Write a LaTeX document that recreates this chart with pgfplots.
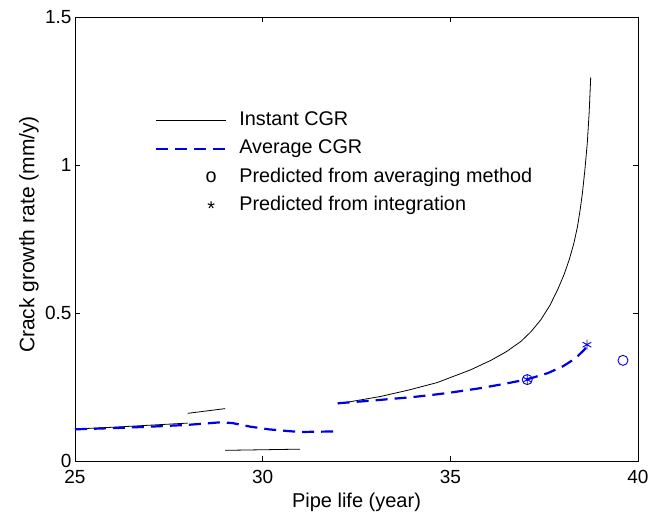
\documentclass[border=0pt]{standalone}
\usepackage{pgfplots}
\pgfplotsset{compat=1.18}
\usepackage{pgfplotstable}
\usepackage{fontspec}
\setmainfont{Liberation Sans}
\definecolor{mblue}{RGB}{0,0,230}
\pgfplotsset{
  lineimg/.style={legend image code/.code={\path (0pt,-5pt) (70pt,5pt); \draw[##1] (0pt,0pt) -- (70pt,0pt);}},
  circimg/.style={legend image code/.code={\path (0pt,-5pt) (70pt,5pt); \node[black, inner sep=0pt, text height=0pt, text depth=0pt, anchor=base] at (55pt,-5pt) {o};}},
  starimg/.style={legend image code/.code={\path (0pt,-5pt) (70pt,5pt); \node[black, inner sep=0pt, text height=0pt, text depth=0pt, anchor=base] at (55pt,-10pt) {*};}},
}

\pgfplotstableread{
x y
25 0.108
26 0.114
27 0.121
28 0.128
28 nan
28 0.161
29 0.177
29 nan
29 0.036
31 0.040
31 nan
32 0.193
33.14 0.218
33.9 0.240
34.65 0.265
35.54 0.308
36.08 0.340
36.5 0.370
36.88 0.404
37.15 0.437
37.41 0.477
37.65 0.525
37.86 0.579
38.03 0.630
38.17 0.681
38.29 0.735
38.39 0.793
38.46 0.850
38.52 0.906
38.59 0.990
38.65 1.076
38.70 1.180
38.74 1.296
}\instant

\pgfplotstableread{
x y
25 0.107
26 0.111
27 0.116
28 0.122
28.5 0.127
28.9 0.131
29.2 0.128
29.67 0.116
30.16 0.107
30.69 0.101
31.0 0.098
31.5 0.099
32.0 0.100
32.0 nan
32.0 0.195
33.0 0.205
34.0 0.216
34.5 0.223
35.0 0.231
35.8 0.246
36.5 0.262
37.05 0.276
37.6 0.297
38.0 0.320
38.2 0.336
38.4 0.355
38.57 0.376
38.65 0.390
}\average

\begin{document}
\begin{tikzpicture}
\begin{axis}[
  scale only axis, width=563pt, height=444pt,
  xmin=25, xmax=40, ymin=0, ymax=1.5,
  xtick={25,30,35,40}, ytick={0,0.5,1,1.5},
  tick align=inside, major tick length=5pt,
  axis line style={line width=0.8pt},
  every tick/.style={black, line width=0.8pt},
  /pgf/number format/assume math mode=true,
  tick label style={font=\fontsize{19}{22}\selectfont},
  xticklabel style={inner ysep=0pt, yshift=-9.3pt},
  yticklabel style={inner ysep=0pt},
  xlabel={Pipe life (year)},
  ylabel={Crack growth rate (mm/y)},
  xlabel style={at={(axis description cs:0.5,0)}, anchor=base, yshift=-46pt, font=\fontsize{20}{24}\selectfont},
  ylabel style={at={(axis description cs:-0.0817,0.51)}, anchor=center, font=\fontsize{21}{25}\selectfont},
  unbounded coords=jump,
  legend style={at={(axis description cs:0.142,0.79)}, anchor=north west, draw=none, fill=none,
    inner sep=0pt, font=\fontsize{19.8}{23}\selectfont, row sep=8.5pt, column sep=12pt,
    nodes={inner sep=0pt, text height=15pt, text depth=5pt}},
  legend cell align=left,
]
\addplot[black, line width=0.8pt, no marks, lineimg] table {\instant};
\addlegendentry{Instant CGR}
\addplot[mblue, line width=2.2pt, dash pattern=on 12pt off 7pt, no marks, lineimg] table {\average};
\addlegendentry{Average CGR}
\addplot[mblue, only marks, mark=o, mark size=5pt, line width=0.9pt, circimg]
  coordinates {(37.05,0.275) (39.6,0.34)};
\addlegendentry{Predicted from averaging method}
\addplot[mblue, only marks, mark=asterisk, mark size=5pt, line width=0.9pt, starimg]
  coordinates {(37.05,0.275) (38.64,0.393)};
\addlegendentry{Predicted from integration}
\end{axis}
\path (current axis.south west) +(-75pt,-59pt) (current axis.north east) +(16pt,17pt);
\end{tikzpicture}
\end{document}
